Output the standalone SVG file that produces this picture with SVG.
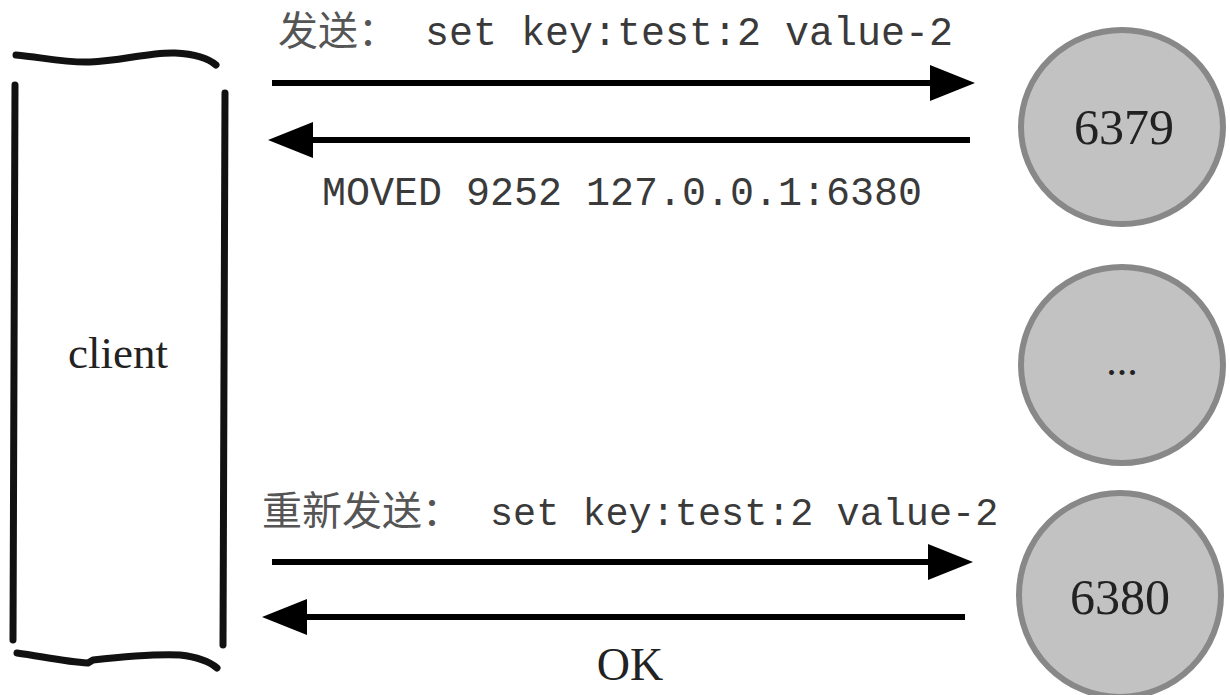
<svg xmlns="http://www.w3.org/2000/svg" width="1230" height="695" viewBox="0 0 1230 695">
<style>
.sk{fill:none;stroke:#111;stroke-width:7;stroke-linecap:round;stroke-linejoin:round}
.ar{fill:none;stroke:#000;stroke-width:6}
.node{fill:#c2c2c2;stroke:#888;stroke-width:6}
.serif{font-family:"Liberation Serif","DejaVu Serif",serif;fill:#222}
.mono{font-family:"Liberation Mono","DejaVu Sans Mono",monospace;fill:#3a3a3a}
.cjk{font-family:"Noto Sans CJK SC",sans-serif;fill:#555}
</style>
<defs>
<marker id="ah" viewBox="0 0 45 36" refX="0" refY="18" markerWidth="45" markerHeight="36" markerUnits="userSpaceOnUse" orient="auto">
<path d="M0,0 L45,18 L0,36 Z" fill="#000"/>
</marker>
</defs>
<g id="client">
<path class="sk" d="M16,55 C40,57 65,63 90,62 C120,61 150,52 175,53 C195,54 208,58 216,65"/>
<path class="sk" d="M15,85 L13,640"/>
<path class="sk" d="M225,93 L223,645"/>
<path class="sk" d="M17,653 C40,656 65,662 88,663 L93,660 C120,657 155,654 180,655 C198,657 210,662 217,668"/>
<text class="serif" x="118" y="368" font-size="45" text-anchor="middle">client</text>
</g>
<g id="n6379">
<ellipse class="node" cx="1122" cy="127" rx="101" ry="97"/>
<text class="serif" x="1124" y="144" font-size="50" text-anchor="middle">6379</text>
</g>
<g id="ndots">
<ellipse class="node" cx="1122" cy="365" rx="101" ry="98"/>
<text class="serif" x="1122" y="375" font-size="42" text-anchor="middle">...</text>
</g>
<g id="n6380">
<ellipse class="node" cx="1120" cy="595" rx="101" ry="102"/>
<text class="serif" x="1120" y="614" font-size="50" text-anchor="middle">6380</text>
</g>
<g id="connectors">
<line class="ar" x1="272" y1="83" x2="930" y2="83" marker-end="url(#ah)"/>
<line class="ar" x1="970" y1="140" x2="313" y2="140" marker-end="url(#ah)"/>
<line class="ar" x1="272" y1="562" x2="928" y2="562" marker-end="url(#ah)"/>
<line class="ar" x1="965" y1="617" x2="307" y2="617" marker-end="url(#ah)"/>
</g>
<g id="labels">
<text x="278" y="45" font-size="40"><tspan class="cjk">发送：</tspan><tspan class="mono" x="425">set key:test:2 value-2</tspan></text>
<text class="mono" x="322" y="205" font-size="40">MOVED 9252 127.0.0.1:6380</text>
<text x="262" y="525" font-size="40"><tspan class="cjk">重新发送：</tspan><tspan class="mono" x="490" font-size="38.5">set key:test:2 value-2</tspan></text>
<text class="serif" x="630" y="680" font-size="46" text-anchor="middle">OK</text>
</g>
</svg>
